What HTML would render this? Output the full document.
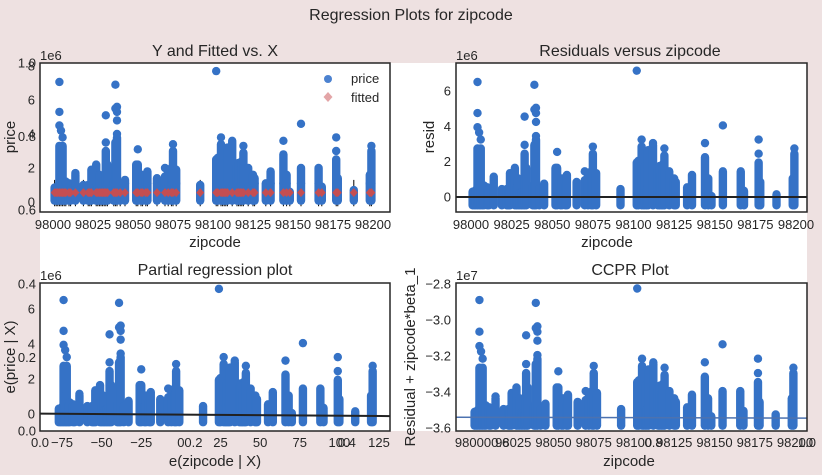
<!DOCTYPE html>
<html><head><meta charset="utf-8"><style>
body{margin:0;background:#EEE1E1;}
svg{display:block;font-family:"Liberation Sans",sans-serif;fill:#262626;}
</style></head><body>
<svg id="fig" width="822" height="475" viewBox="0 0 822 475">
<rect x="0" y="0" width="822" height="475" fill="#EEE1E1"/>
<rect x="40" y="63" width="767" height="368" fill="#fff"/>
<text x="411" y="20" font-size="16" text-anchor="middle">Regression Plots for zipcode</text>
<g id="g"></g>
</svg>
<script>
const zipcodes=[98001,98002,98003,98004,98005,98006,98007,98008,98010,98011,98014,98019,98022,98023,98024,98027,98028,98029,98030,98031,98032,98033,98034,98038,98039,98040,98042,98045,98052,98053,98055,98056,98058,98059,98065,98070,98072,98074,98075,98077,98092,98102,98103,98105,98106,98107,98108,98109,98112,98115,98116,98117,98118,98119,98122,98125,98126,98133,98136,98144,98146,98148,98155,98166,98168,98177,98178,98188,98198,98199];
const bandTop=[0.85,0.6,0.95,3.3,1.6,3.3,1.0,1.2,1.1,1.0,1.6,1.0,1.0,1.0,1.9,2.2,1.1,1.6,0.8,0.8,0.7,3.0,2.2,1.2,3.5,3.8,1.0,1.3,2.2,2.2,1.0,1.6,1.3,1.8,1.4,1.5,1.8,2.0,3.0,1.9,1.0,2.5,2.6,3.4,0.9,2.3,1.0,3.2,3.5,2.2,2.3,1.9,2.4,2.9,2.0,1.6,1.4,1.1,1.8,2.8,1.6,0.6,2.0,2.0,0.9,2.5,1.4,0.7,1.6,3.0];
const outlierZip=[98004,98004,98004,98005,98006,98039,98040,98040,98039,98040,98040,98033,98033,98102,98105,98112,98119,98144,98155,98177,98177,98199,98053,98075,98070,98014];
const outlierPrice=[7.06,5.3,4.5,4.2,3.8,6.9,5.6,5.3,5.5,4.8,4.0,5.1,3.5,7.7,3.8,3.6,3.3,3.6,4.6,3.8,3.0,3.3,3.1,3.4,2.0,1.7];
const bandBase=0.08, fittedVal=0.55, zipMean=98078, ccprOffset=-3.54;
const ticks1Y=[0,2,4,6,8], ticksZip=[98000,98025,98050,98075,98100,98125,98150,98175,98200];
const ticksResidY=[0,2,4,6], ticksPartX=[-75,-50,-25,0,25,50,75,100,125], ticksCcprY=[-2.8,-3.0,-3.2,-3.4,-3.6];
const bgTicks=[0,0.2,0.4,0.6,0.8,1.0];

const NS='http://www.w3.org/2000/svg', G=document.getElementById('g');
const BLUE='#3572C6';
function el(t,a,p){const e=document.createElementNS(NS,t);for(const k in a)e.setAttribute(k,a[k]);(p||G).appendChild(e);return e;}
function txt(s,a,p){const e=el('text',a,p);e.textContent=s;return e;}
function lin(d0,d1,r0,r1){return v=>r0+(v-d0)*(r1-r0)/(d1-d0);}
const R=4.2, TF=13;
function panel(name,L,T,Rr,B){
  const g=el('g',{});
  el('rect',{x:L,y:T,width:Rr-L,height:B-T,fill:'#fff'},g);
  const cp=el('clipPath',{id:'c'+name},g);el('rect',{x:L,y:T,width:Rr-L,height:B-T},cp);
  const inner=el('g',{'clip-path':'url(#c'+name+')'},g);
  return {g,inner,frame:()=>el('rect',{x:L,y:T,width:Rr-L,height:B-T,fill:'none',stroke:'#262626','stroke-width':1.5},g)};
}
function band(p,x,y0,y1){const r=el('rect',{x:x-R,y:y1-R,width:2*R,height:Math.max(0,y0-y1)+2*R,rx:R,fill:BLUE},p.inner);}
function dot(p,x,y){const c=el('circle',{cx:x,cy:y,r:R,fill:BLUE},p.inner);}
function xt(g,x,y,s){const t=txt(s,{x:x,y:y,'font-size':TF,'text-anchor':'middle'},g);}
function yt(g,x,y,s){const t=txt(s,{x:x,y:y+4.5,'font-size':TF,'text-anchor':'end'},g);}
function lab(s,x,y,rot,name,fs){const t=txt(s,{x:x,y:y,'font-size':fs||15,'text-anchor':'middle',transform:rot?`rotate(-90 ${x} ${y})`:''});}
const fmt=v=>v<0?'\u2212'+Math.abs(v).toFixed(1):v.toFixed(1);

const bgY=lin(0,1,431,63), bgX=lin(0,1,40,807);
bgTicks.forEach(v=>{yt(G,36,bgY(v),v.toFixed(1));xt(G,bgX(v),447,v.toFixed(1));});

// Panel 1
{const p=panel('y-fitted-panel',40,63,390,212);const x=lin(98000,98200,53,373),y=lin(0,6,202,100);
 zipcodes.forEach((z,i)=>{const l=el('line',{x1:x(z),x2:x(z),y1:y(-0.25),y2:y(1.3),stroke:'#000','stroke-width':1},p.inner);});
 zipcodes.forEach((z,i)=>band(p,x(z),y(bandBase),y(Math.min(bandTop[i],1.1))));
 zipcodes.forEach((z,i)=>{if(bandTop[i]>1.1)band(p,x(z),y(1.1),y(bandTop[i]));});
 outlierZip.forEach((z,i)=>dot(p,x(z),y(outlierPrice[i])));
 zipcodes.forEach(z=>{const X=x(z),Y=y(fittedVal);const d=el('polygon',{points:`${X},${Y-4.5} ${X+4},${Y} ${X},${Y+4.5} ${X-4},${Y}`,fill:'#C44E52'},p.inner);});
 p.frame();
 ticks1Y.forEach(v=>yt(p.g,35,y(v),String(v)));ticksZip.forEach(v=>xt(p.g,x(v),229,String(v)));
 txt('1e6',{x:40,y:60,'font-size':TF},p.g);
 const lg=el('g',{},p.g);
 el('circle',{cx:328,cy:79,r:4,fill:'#4C82D0'},lg);txt('price',{x:351,y:83,'font-size':TF},lg);
 el('polygon',{points:'328,92 332.5,97 328,102 323.5,97',fill:'#E3A5A7'},lg);txt('fitted',{x:351,y:102,'font-size':TF},lg);
}
lab('price',15,137,true,'y-axis-title-price');lab('zipcode',215,247,false,'x-axis-title-zipcode');lab('Y and Fitted vs. X',215,56,false,'panel-title',16);

// Panel 2
{const p=panel('residuals-panel',456,63,807,212);const x=lin(98000,98200,471,796),y=lin(0,6,197,91);
 zipcodes.forEach((z,i)=>band(p,x(z),y(bandBase-fittedVal),y(bandTop[i]-fittedVal)));
 outlierZip.forEach((z,i)=>dot(p,x(z),y(outlierPrice[i]-fittedVal)));
 const l=el('line',{x1:456,x2:807,y1:y(0),y2:y(0),stroke:'#222','stroke-width':2},p.inner);
 p.frame();ticksResidY.forEach(v=>yt(p.g,451,y(v),String(v)));ticksZip.forEach(v=>xt(p.g,x(v),229,String(v)));
 txt('1e6',{x:456,y:60,'font-size':TF},p.g);}
lab('resid',434,137,true,'y-axis-title-resid');lab('zipcode',607,247,false,'x-axis-title-zipcode-2');lab('Residuals versus zipcode',630,56,false,'panel-title',16);

// Panel 3
{const p=panel('partial-regression-panel',40,283,390,431);const x=lin(-75,125,62,379),y=lin(0,6,414,309);
 zipcodes.forEach((z,i)=>band(p,x(z-zipMean),y(bandBase-fittedVal),y(bandTop[i]-fittedVal)));
 outlierZip.forEach((z,i)=>dot(p,x(z-zipMean),y(outlierPrice[i]-fittedVal)));
 const l=el('line',{x1:40,x2:390,y1:y(0.02),y2:y(-0.12),stroke:'#222','stroke-width':2},p.inner);
 p.frame();ticksResidY.forEach(v=>yt(p.g,35,y(v),String(v)));ticksPartX.forEach(v=>xt(p.g,x(v),447,v<0?'\u2212'+Math.abs(v):String(v)));
 txt('1e6',{x:40,y:280,'font-size':TF},p.g);}
lab('e(price | X)',15,357,true,'y-axis-title-eprice');lab('e(zipcode | X)',215,466,false,'x-axis-title-ezipcode');lab('Partial regression plot',215,275,false,'panel-title',16);

// Panel 4
{const p=panel('ccpr-panel',456,283,807,431);const x=lin(98000,98200,473,795),y=lin(-2.8,-3.6,284,428);
 zipcodes.forEach((z,i)=>band(p,x(z),y(ccprOffset+(bandBase-fittedVal)/10),y(ccprOffset+(bandTop[i]-fittedVal)/10)));
 outlierZip.forEach((z,i)=>dot(p,x(z),y(ccprOffset+(outlierPrice[i]-fittedVal)/10)));
 const l=el('line',{x1:456,x2:807,y1:y(ccprOffset),y2:y(ccprOffset-0.005),stroke:'#4C72B0','stroke-width':1.5},p.inner);
 p.frame();ticksCcprY.forEach(v=>yt(p.g,451,y(v),fmt(v)));ticksZip.forEach(v=>xt(p.g,x(v),447,String(v)));
 txt('1e7',{x:456,y:280,'font-size':TF},p.g);}
lab('Residual + zipcode*beta_1',415,357,true,'y-axis-title-ccpr');lab('zipcode',629,466,false,'x-axis-title-zipcode-4');lab('CCPR Plot',630,275,false,'panel-title',16);
</script>
</body></html>
